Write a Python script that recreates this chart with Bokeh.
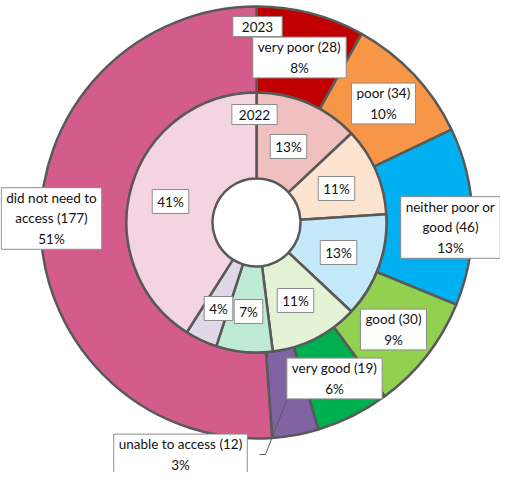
import numpy as np
from bokeh.plotting import figure
from bokeh.models import Range1d, Label
from bokeh.embed import file_html
from bokeh.resources import INLINE

# ---- data ----
categories = ["very poor", "poor", "neither poor or good", "good", "very good",
              "unable to access", "did not need to access"]
counts_2023 = [28, 34, 46, 30, 19, 12, 177]
pct_2023 = [8, 10, 13, 9, 6, 3, 51]
pct_2022 = [13, 11, 13, 11, 7, 4, 41]

# ---- styles ----
outer_colors = ["#C00000", "#F79646", "#00B0F0", "#92D050", "#00B050", "#8064A2", "#D35C8C"]
inner_colors = ["#F0BFBF", "#FDE4D0", "#C4EAF9", "#E4F2D5", "#BFEAD3", "#DED8E8", "#F4D4E1"]
edge = "#595959"
FONT = "Lato"
FS = "13.5px"

W, H = 500, 472
PAGE_H = 488

def py(y):
    # page y -> data y
    return PAGE_H - y

cx, cy = 264, py(230)
R_OUT, R_MID, R_IN = 216, 130, 44

p = figure(width=W, height=H, output_backend="svg", toolbar_location=None,
           x_range=Range1d(8, 8 + W), y_range=Range1d(PAGE_H - 8 - H, PAGE_H - 8),
           min_border=0)
p.axis.visible = False
p.grid.visible = False
p.outline_line_color = None
p.background_fill_color = "white"
p.border_fill_color = "white"

def angles(vals):
    v = np.array(vals, dtype=float)
    frac = v / v.sum()
    cum = np.concatenate([[0], np.cumsum(frac)])
    start = np.pi / 2 - cum[:-1] * 2 * np.pi
    end = np.pi / 2 - cum[1:] * 2 * np.pi
    return start, end

s23, e23 = angles(counts_2023)
s22, e22 = angles(pct_2022)

p.annular_wedge(x=cx, y=cy, inner_radius=R_MID, outer_radius=R_OUT,
                start_angle=s23, end_angle=e23, direction="clock",
                fill_color=outer_colors, line_color=edge, line_width=2.5)
p.annular_wedge(x=cx, y=cy, inner_radius=R_IN, outer_radius=R_MID,
                start_angle=s22, end_angle=e22, direction="clock",
                fill_color=inner_colors, line_color=edge, line_width=2.5)

# leader line for "unable to access"
lead_x = [267, 273, 294]
lead_y = [py(462), py(462), py(408)]
p.line(lead_x, lead_y, line_color=edge, line_width=1)

def lab(x, y, text, pad=(5, 4)):
    p.add_layout(Label(x=x, y=py(y), text=text, text_align="center",
                       text_baseline="middle", text_font=FONT, text_font_size=FS,
                       text_color="#111111", text_line_height=1.3,
                       background_fill_color="white", border_line_color="#8c8c8c",
                       border_line_width=1, padding=pad))

# outer label positions (page px) in category order
outer_pos = [(307, 65), (391, 111), (458, 235), (401, 337), (342, 386), (188, 462), (59, 226)]
outer_names = ["very poor", "poor", "neither poor or\ngood", "good", "very good",
               "unable to access", "did not need to\naccess"]
for (x, y), n, c, pc in zip(outer_pos, outer_names, counts_2023, pct_2023):
    lab(x, y, f"{n} ({c})\n{pc}%", pad=(5, 2))

inner_pos = [(296, 154), (344, 196), (346, 260), (303, 308), (256, 319), (226, 316), (178, 209)]
for (x, y), pc in zip(inner_pos, pct_2022):
    lab(x, y, f"{pc}%", pad=(5, 4))

lab(265, 34, "2023", pad=(9, 5))
lab(262, 122, "2022", pad=(7, 5))

open("out.html", "w").write(file_html(p, INLINE))
